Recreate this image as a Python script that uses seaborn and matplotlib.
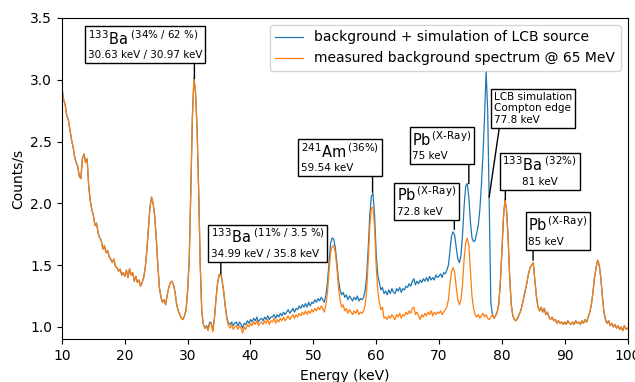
import numpy as np
import pandas as pd
import matplotlib
matplotlib.use("Agg")
import matplotlib.pyplot as plt
import seaborn as sns
from matplotlib.offsetbox import TextArea, VPacker, AnnotationBbox

# energy bins, 0.25 keV wide
energy = np.linspace(10, 100, 361)

# measured background spectrum @ 65 MeV (counts/s), 5 keV per row
background = [
    2.93, 2.84, 2.80, 2.71, 2.68, 2.60, 2.52, 2.46, 2.38, 2.33, 2.30, 2.22, 2.20, 2.36, 2.40, 2.33, 2.36, 2.14, 2.02, 1.95,
    1.90, 1.82, 1.84, 1.76, 1.72, 1.70, 1.63, 1.66, 1.60, 1.62, 1.57, 1.55, 1.52, 1.55, 1.49, 1.48, 1.45, 1.47, 1.42, 1.44,
    1.41, 1.46, 1.40, 1.47, 1.42, 1.44, 1.37, 1.41, 1.36, 1.38, 1.33, 1.36, 1.40, 1.48, 1.62, 1.80, 1.97, 2.05, 2.00, 1.90,
    1.72, 1.50, 1.32, 1.24, 1.20, 1.22, 1.18, 1.26, 1.32, 1.36, 1.37, 1.34, 1.28, 1.18, 1.13, 1.10, 1.07, 1.06, 1.09, 1.14,
    1.30, 1.55, 2.10, 2.70, 3.01, 2.90, 2.60, 2.10, 1.50, 1.12, 1.02, 0.99, 1.00, 0.97, 1.03, 1.02, 0.96, 1.06, 1.22, 1.35,
    1.42, 1.43, 1.37, 1.28, 1.16, 1.06, 1.01, 0.99, 1.02, 0.98, 1.00, 1.01, 0.98, 1.01, 0.99, 0.95, 1.00, 0.98, 1.02, 1.00,
    1.03, 1.01, 1.04, 1.02, 1.05, 1.01, 1.03, 1.04, 1.02, 1.05, 1.03, 1.06, 1.02, 1.05, 1.04, 1.07, 1.03, 1.06, 1.04, 1.07,
    1.05, 1.08, 1.05, 1.07, 1.09, 1.06, 1.08, 1.10, 1.07, 1.10, 1.08, 1.11, 1.09, 1.12, 1.10, 1.13, 1.10, 1.13, 1.11, 1.14,
    1.12, 1.15, 1.13, 1.16, 1.14, 1.17, 1.15, 1.12, 1.18, 1.28, 1.45, 1.60, 1.65, 1.66, 1.60, 1.48, 1.32, 1.22, 1.16, 1.18,
    1.13, 1.15, 1.11, 1.14, 1.12, 1.10, 1.13, 1.11, 1.14, 1.10, 1.12, 1.11, 1.13, 1.18, 1.30, 1.55, 1.82, 1.96, 1.97, 1.80,
    1.50, 1.30, 1.20, 1.14, 1.16, 1.07, 1.08, 1.06, 1.09, 1.07, 1.10, 1.08, 1.06, 1.10, 1.08, 1.11, 1.07, 1.10, 1.09, 1.12,
    1.10, 1.13, 1.11, 1.15, 1.16, 1.10, 1.12, 1.09, 1.06, 1.10, 1.08, 1.11, 1.09, 1.12, 1.10, 1.13, 1.09, 1.12, 1.10, 1.12,
    1.11, 1.13, 1.10, 1.12, 1.14, 1.16, 1.22, 1.35, 1.45, 1.48, 1.44, 1.32, 1.22, 1.18, 1.22, 1.35, 1.55, 1.68, 1.72, 1.66,
    1.45, 1.25, 1.15, 1.10, 1.08, 1.10, 1.07, 1.09, 1.11, 1.08, 1.10, 1.07, 1.06, 1.08, 1.10, 1.07, 1.09, 1.12, 1.18, 1.35,
    1.60, 1.88, 2.03, 1.95, 1.72, 1.40, 1.18, 1.09, 1.06, 1.05, 1.07, 1.10, 1.13, 1.18, 1.24, 1.30, 1.36, 1.43, 1.48, 1.50,
    1.52, 1.38, 1.25, 1.16, 1.13, 1.16, 1.12, 1.15, 1.10, 1.12, 1.08, 1.06, 1.08, 1.05, 1.06, 1.03, 1.05, 1.03, 1.04, 1.02,
    1.04, 1.02, 1.05, 1.03, 1.02, 1.04, 1.02, 1.05, 1.03, 1.04, 1.02, 1.05, 1.03, 1.06, 1.04, 1.08, 1.12, 1.18, 1.28, 1.40,
    1.48, 1.54, 1.50, 1.40, 1.25, 1.12, 1.06, 1.03, 1.05, 1.01, 1.03, 1.00, 1.02, 0.99, 1.01, 0.98, 1.00, 0.97, 1.01, 0.98,
    0.99,
]

# background + simulated LCB source (counts/s)
simulation = [
    2.93, 2.84, 2.80, 2.71, 2.68, 2.60, 2.52, 2.46, 2.38, 2.33, 2.30, 2.22, 2.20, 2.36, 2.40, 2.33, 2.36, 2.14, 2.02, 1.95,
    1.90, 1.82, 1.84, 1.76, 1.72, 1.70, 1.63, 1.66, 1.60, 1.62, 1.57, 1.55, 1.52, 1.55, 1.49, 1.48, 1.45, 1.47, 1.42, 1.44,
    1.41, 1.46, 1.40, 1.47, 1.42, 1.44, 1.37, 1.41, 1.36, 1.38, 1.33, 1.36, 1.40, 1.48, 1.62, 1.80, 1.97, 2.05, 2.00, 1.90,
    1.72, 1.50, 1.32, 1.24, 1.20, 1.22, 1.18, 1.26, 1.32, 1.36, 1.37, 1.34, 1.28, 1.18, 1.13, 1.10, 1.07, 1.06, 1.09, 1.14,
    1.30, 1.55, 2.10, 2.70, 3.01, 2.90, 2.60, 2.10, 1.50, 1.12, 1.02, 0.99, 1.01, 0.98, 1.04, 1.03, 0.97, 1.07, 1.22, 1.35,
    1.42, 1.43, 1.37, 1.28, 1.16, 1.07, 1.03, 1.02, 1.04, 1.01, 1.03, 1.04, 1.01, 1.04, 1.02, 0.99, 1.03, 1.02, 1.05, 1.03,
    1.06, 1.04, 1.07, 1.05, 1.08, 1.04, 1.06, 1.07, 1.05, 1.08, 1.06, 1.09, 1.06, 1.08, 1.08, 1.10, 1.07, 1.10, 1.08, 1.11,
    1.09, 1.12, 1.10, 1.12, 1.14, 1.11, 1.13, 1.15, 1.12, 1.15, 1.14, 1.17, 1.15, 1.18, 1.16, 1.19, 1.16, 1.20, 1.17, 1.20,
    1.19, 1.22, 1.20, 1.23, 1.21, 1.24, 1.22, 1.20, 1.26, 1.36, 1.52, 1.68, 1.72, 1.71, 1.64, 1.52, 1.38, 1.30, 1.26, 1.28,
    1.24, 1.26, 1.22, 1.25, 1.23, 1.21, 1.24, 1.22, 1.25, 1.21, 1.23, 1.22, 1.24, 1.30, 1.42, 1.65, 1.92, 2.06, 2.08, 1.90,
    1.60, 1.42, 1.36, 1.30, 1.32, 1.27, 1.29, 1.26, 1.30, 1.27, 1.31, 1.28, 1.27, 1.31, 1.29, 1.32, 1.28, 1.31, 1.30, 1.33,
    1.32, 1.35, 1.33, 1.37, 1.39, 1.34, 1.37, 1.35, 1.38, 1.36, 1.39, 1.37, 1.40, 1.37, 1.41, 1.38, 1.40, 1.38, 1.42, 1.40,
    1.41, 1.43, 1.40, 1.44, 1.43, 1.46, 1.50, 1.62, 1.74, 1.77, 1.74, 1.64, 1.55, 1.52, 1.58, 1.75, 1.98, 2.14, 2.16, 2.05,
    1.85, 1.72, 1.69, 1.70, 1.76, 1.82, 1.95, 2.15, 2.40, 2.70, 3.07, 2.75, 2.00, 1.20, 1.10, 1.07, 1.09, 1.12, 1.18, 1.35,
    1.60, 1.88, 2.03, 1.95, 1.72, 1.40, 1.18, 1.09, 1.06, 1.05, 1.07, 1.10, 1.13, 1.18, 1.24, 1.30, 1.36, 1.43, 1.48, 1.50,
    1.52, 1.38, 1.25, 1.16, 1.13, 1.16, 1.12, 1.15, 1.10, 1.12, 1.08, 1.06, 1.08, 1.05, 1.06, 1.03, 1.05, 1.03, 1.04, 1.02,
    1.04, 1.02, 1.05, 1.03, 1.02, 1.04, 1.02, 1.05, 1.03, 1.04, 1.02, 1.05, 1.03, 1.06, 1.04, 1.08, 1.12, 1.18, 1.28, 1.40,
    1.48, 1.54, 1.50, 1.40, 1.25, 1.12, 1.06, 1.03, 1.05, 1.01, 1.03, 1.00, 1.02, 0.99, 1.01, 0.98, 1.00, 0.97, 1.01, 0.98,
    0.99,
]

# peak labels: (head, sub text, energy, counts, dx pt, dy pt, box anchor, align)
peaks = [
    (r"$^{133}$Ba$^{\ (34\%\ /\ 62\ \%)}$", "30.63 keV / 30.97 keV", 31.07, 3.01, 0, 13, 0.93, "left"),
    (r"$^{133}$Ba$^{\ (11\%\ /\ 3.5\ \%)}$", "34.99 keV / 35.8 keV", 35.28, 1.43, 0, 10.5, 0.09, "left"),
    (r"$^{241}$Am$^{\,(36\%)}$", "59.54 keV", 59.43, 2.09, 0, 13.5, 0.92, "left"),
    (r"Pb$^{\,\text{(X-Ray)}}$", "75 keV", 74.75, 2.16, 0, 16, 0.955, "left"),
    (r"Pb$^{\,\text{(X-Ray)}}$", "72.8 keV", 72.44, 1.79, 0, 9, 0.975, "left"),
    (None, "LCB simulation\nCompton edge\n77.8 keV", 77.98, 2.05, 7.6, 52, 0.07, "left"),
    (r"$^{133}$Ba$^{\ (32\%)}$", "81 keV", 80.56, 2.03, 0, 9, 0.04, "center"),
    (r"Pb$^{\,\text{(X-Ray)}}$", "85 keV", 84.97, 1.54, 0, 9.7, 0.08, "left"),
]

plt.rcParams["mathtext.default"] = "regular"

fig = plt.figure(figsize=(6.35, 3.82), dpi=100)
ax = fig.add_axes([62 / 635, 42.7 / 382, 565.5 / 635, 321.3 / 382])

sns.lineplot(x=energy, y=simulation, ax=ax, color="#1f77b4", lw=0.9,
             estimator=None, label="background + simulation of LCB source")
sns.lineplot(x=energy, y=background, ax=ax, color="#ff7f0e", lw=0.9,
             estimator=None, label="measured background spectrum @ 65 MeV")

for head, sub, e, c, dx, dy, frac, align in peaks:
    items = []
    if head:
        items.append(TextArea(head, textprops=dict(fontsize=10.5)))
    items.append(TextArea(sub, textprops=dict(fontsize=7.5)))
    pack = VPacker(children=items, align=align, pad=0, sep=2)
    ab = AnnotationBbox(pack, (e, c), xybox=(dx, dy), xycoords="data",
                        boxcoords="offset points", box_alignment=(frac, 0), pad=0.2,
                        bboxprops=dict(edgecolor="black", linewidth=1.0),
                        arrowprops=dict(arrowstyle="-", color="black", lw=1.0,
                                        relpos=(frac, 0), shrinkA=0, shrinkB=0))
    ax.add_artist(ab)

ax.set_xlim(10, 100)
ax.set_ylim(0.9, 3.5)
ax.set_xlabel("Energy (keV)")
ax.set_ylabel("Counts/s")
ax.legend(loc="upper right")

plt.savefig("out.png", dpi=100)
